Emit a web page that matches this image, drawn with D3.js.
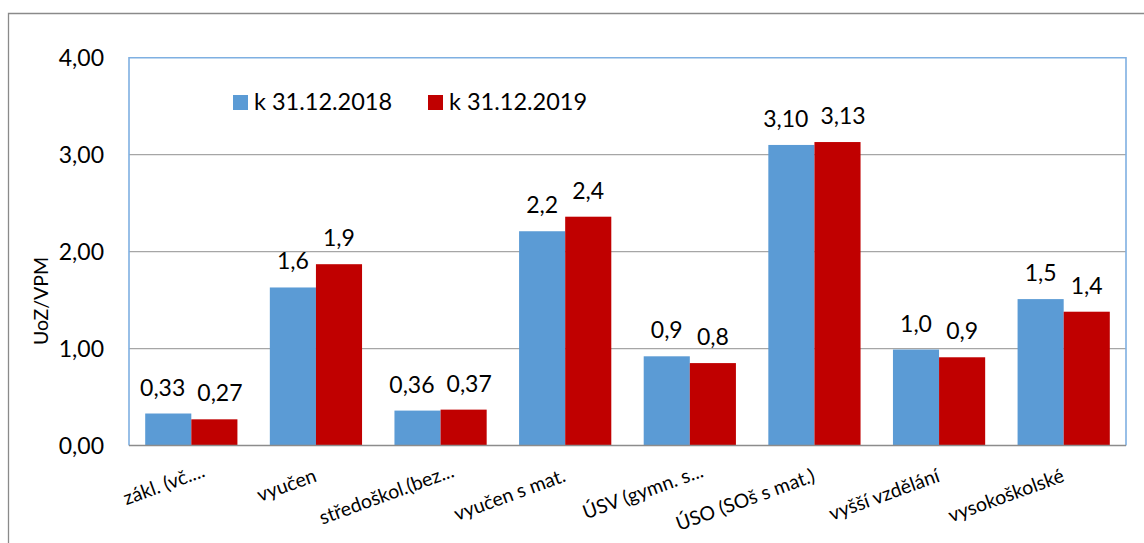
<!DOCTYPE html>
<html>
<head>
<meta charset="utf-8">
<script src="https://cdn.jsdelivr.net/npm/d3@7"></script>
<style>
  html, body { margin: 0; padding: 0; background: #fff; }
  svg { display: block; font-family: Lato, "Noto Sans", sans-serif; }
</style>
</head>
<body>
<svg id="chart" width="1144" height="543"></svg>
<script>
var categories = ['zákl. (vč....', 'vyučen', 'středoškol.(bez...', 'vyučen s mat.', 'ÚSV (gymn. s...', 'ÚSO (SOš s mat.)', 'vyšší vzdělání', 'vysokoškolské'];
var seriesNames = ['k 31.12.2018', 'k 31.12.2019'];
var values2018 = [0.33, 1.63, 0.36, 2.21, 0.92, 3.10, 0.99, 1.51];
var values2019 = [0.27, 1.87, 0.37, 2.36, 0.85, 3.13, 0.91, 1.38];
var labels2018 = ['0,33', '1,6', '0,36', '2,2', '0,9', '3,10', '1,0', '1,5'];
var labels2019 = ['0,27', '1,9', '0,37', '2,4', '0,8', '3,13', '0,9', '1,4'];
var yTicks = [0, 1, 2, 3, 4];
var colors = ['#5b9bd5', '#c00000'];

const margin = {top: 57.7, left: 129, right: 18, bottom: 97.5};
const width = 1144, height = 543;
const svg = d3.select('#chart');

// outer frame (only top and left edges are visible)
svg.append('path')
  .attr('d', 'M8.5,543 V13.5 H1144')
  .attr('fill', 'none')
  .attr('stroke', '#8a8a8a')
  .attr('stroke-width', 1.3);

const x0 = d3.scaleBand()
  .domain(categories)
  .range([margin.left, width - margin.right])
  .paddingInner(0.26)
  .paddingOuter(0.13);

const x1 = d3.scaleBand()
  .domain(seriesNames)
  .range([0, x0.bandwidth()]);

const y = d3.scaleLinear()
  .domain([0, 4])
  .range([height - margin.bottom, margin.top]);

const fmt = v => d3.format('.2f')(v).replace('.', ',');

// gridlines
svg.append('g')
  .selectAll('line')
  .data(yTicks.slice(1, -1))
  .join('line')
  .attr('x1', margin.left).attr('x2', width - margin.right)
  .attr('y1', d => y(d)).attr('y2', d => y(d))
  .attr('stroke', '#a6a6a6')
  .attr('stroke-width', 1.3);

// y tick labels
svg.append('g')
  .selectAll('text')
  .data(yTicks)
  .join('text')
  .attr('x', 104)
  .attr('y', d => y(d))
  .attr('dy', '0.36em')
  .attr('text-anchor', 'end')
  .style('font-size', '23px')
  .attr('fill', '#000')
  .text(fmt);

// y title
svg.append('text')
  .attr('transform', 'translate(48,301) rotate(-90)')
  .attr('text-anchor', 'middle')
  .style('font-size', '19.5px')
  .attr('fill', '#000')
  .text('UoZ/VPM');

// bars
const series = [values2018, values2019];
const seriesLabels = [labels2018, labels2019];
const rows = [];
categories.forEach((c, i) => {
  seriesNames.forEach((s, j) => {
    rows.push({cat: c, series: s, value: series[j][i], label: seriesLabels[j][i], idx: j});
  });
});

svg.append('g')
  .selectAll('rect')
  .data(rows)
  .join('rect')
  .attr('x', d => x0(d.cat) + x1(d.series))
  .attr('width', x1.bandwidth())
  .attr('y', d => y(d.value))
  .attr('height', d => y(0) - y(d.value))
  .attr('fill', d => colors[d.idx]);

// data labels
const dataLabels = svg.append('g')
  .selectAll('text')
  .data(rows)
  .join('text')
  .attr('x', d => x0(d.cat) + x1(d.series) + x1.bandwidth() / 2)
  .attr('y', d => y(d.value) - 18)
  .attr('text-anchor', 'middle')
  .style('font-size', '23px')
  .attr('fill', '#000')
  .text(d => d.label);

// push apart labels of the same category when they would touch
categories.forEach(c => {
  const pair = dataLabels.filter(d => d.cat === c).nodes();
  const a = pair[0].getBBox(), b = pair[1].getBBox();
  const vOverlap = a.y < b.y + b.height && b.y < a.y + a.height;
  const gap = b.x - (a.x + a.width);
  if (vOverlap && gap < 12) {
    const shift = (12 - gap) / 2;
    d3.select(pair[0]).attr('x', +pair[0].getAttribute('x') - shift);
    d3.select(pair[1]).attr('x', +pair[1].getAttribute('x') + shift);
  }
});

// plot area border
svg.append('path')
  .attr('d', `M${margin.left},${y(0)} V${margin.top} H${width - margin.right} V${y(0)}`)
  .attr('fill', 'none')
  .attr('stroke', '#7fb0e2')
  .attr('stroke-width', 1.6);

// category axis line
svg.append('line')
  .attr('x1', margin.left).attr('x2', width - margin.right)
  .attr('y1', y(0)).attr('y2', y(0))
  .attr('stroke', '#8c8c8c')
  .attr('stroke-width', 1.6);

// category labels, rotated; truncated ones hang their "..." past the tick
const catLabels = svg.append('g')
  .selectAll('text')
  .data(categories)
  .join('text')
  .attr('dy', '0.71em')
  .attr('text-anchor', 'end')
  .style('font-size', '19.5px')
  .attr('fill', '#000')
  .text(d => d);

const dotsProbe = svg.append('text').style('font-size', '19.5px').text('...');
const dotsWidth = dotsProbe.node().getComputedTextLength();
dotsProbe.remove();

catLabels.attr('transform', d => {
  const hang = d.endsWith('...') ? dotsWidth : 0;
  return `translate(${x0(d) + x0.bandwidth() / 2 - 3},468) rotate(-20) translate(${hang},0)`;
});

// legend
const legend = svg.append('g')
  .selectAll('g')
  .data(seriesNames)
  .join('g')
  .attr('transform', (d, i) => `translate(${[233, 428][i]},95)`);

legend.append('rect')
  .attr('width', 15).attr('height', 15)
  .attr('fill', (d, i) => colors[i]);

legend.append('text')
  .attr('x', 21)
  .attr('y', 15)
  .style('font-size', '23.5px')
  .attr('fill', '#000')
  .text(d => d);
</script>
</body>
</html>
